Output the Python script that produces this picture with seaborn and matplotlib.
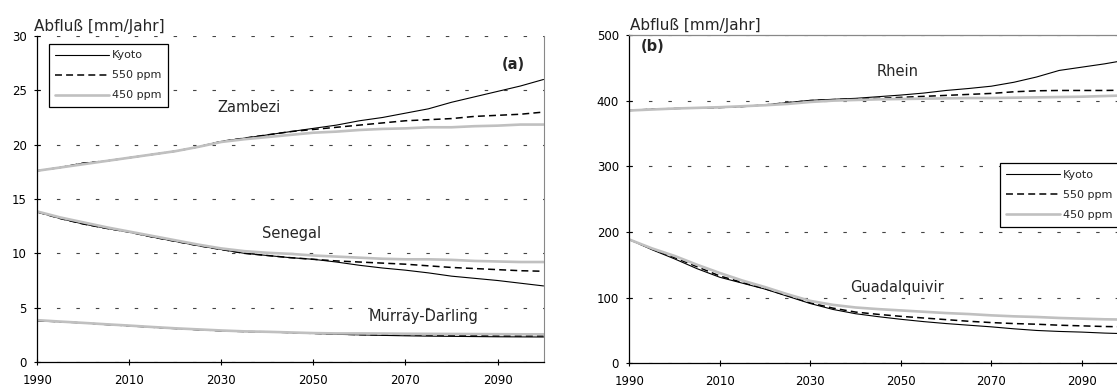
import matplotlib
matplotlib.use("Agg")
import matplotlib.pyplot as plt
from matplotlib.lines import Line2D
import pandas as pd
import seaborn as sns

# ---------------- data ----------------
years = [1990, 1995, 2000, 2005, 2010, 2015, 2020, 2025, 2030, 2035, 2040, 2045,
         2050, 2055, 2060, 2065, 2070, 2075, 2080, 2085, 2090, 2095, 2100]
scenarios = ["Kyoto", "550 ppm", "450 ppm"]

zambezi_kyoto = [17.6, 17.9, 18.3, 18.5, 18.8, 19.1, 19.4, 19.8, 20.3, 20.6, 20.9, 21.2,
                 21.5, 21.8, 22.2, 22.5, 22.9, 23.3, 23.9, 24.4, 24.9, 25.4, 26.0]
zambezi_550 = [17.6, 17.9, 18.3, 18.5, 18.8, 19.1, 19.4, 19.8, 20.3, 20.6, 20.9, 21.2,
               21.4, 21.6, 21.8, 22.0, 22.2, 22.3, 22.4, 22.6, 22.7, 22.8, 23.0]
zambezi_450 = [17.6, 17.9, 18.2, 18.5, 18.8, 19.1, 19.4, 19.8, 20.25, 20.5, 20.7, 20.9,
               21.1, 21.2, 21.35, 21.45, 21.5, 21.6, 21.6, 21.7, 21.75, 21.85, 21.85]

senegal_kyoto = [13.8, 13.2, 12.7, 12.3, 11.95, 11.5, 11.1, 10.7, 10.35, 10.0, 9.8, 9.6,
                 9.45, 9.2, 8.9, 8.65, 8.45, 8.2, 7.9, 7.7, 7.5, 7.25, 7.0]
senegal_550 = [13.8, 13.2, 12.7, 12.3, 11.95, 11.5, 11.1, 10.7, 10.35, 10.0, 9.8, 9.6,
               9.45, 9.3, 9.2, 9.1, 9.0, 8.85, 8.7, 8.6, 8.5, 8.4, 8.35]
senegal_450 = [13.85, 13.3, 12.85, 12.4, 12.0, 11.6, 11.2, 10.8, 10.45, 10.2, 10.05, 9.95,
               9.8, 9.7, 9.6, 9.5, 9.45, 9.45, 9.4, 9.3, 9.25, 9.2, 9.2]

murray_kyoto = [3.8, 3.7, 3.6, 3.45, 3.33, 3.2, 3.08, 2.97, 2.87, 2.8, 2.78, 2.7,
                2.63, 2.55, 2.5, 2.45, 2.41, 2.38, 2.36, 2.34, 2.32, 2.31, 2.3]
murray_550 = [3.8, 3.7, 3.6, 3.45, 3.33, 3.2, 3.08, 2.97, 2.87, 2.8, 2.78, 2.7,
              2.63, 2.57, 2.52, 2.5, 2.5, 2.47, 2.45, 2.42, 2.4, 2.4, 2.4]
murray_450 = [3.85, 3.72, 3.6, 3.47, 3.35, 3.22, 3.1, 3.0, 2.9, 2.82, 2.78, 2.72,
              2.66, 2.63, 2.63, 2.62, 2.6, 2.59, 2.58, 2.57, 2.56, 2.55, 2.55]

rhein_kyoto = [385, 387, 388, 389, 389.5, 391, 393.5, 397, 400.5, 402, 403.5, 406,
               408.5, 411.5, 415.5, 418.5, 422, 428, 436, 446, 451, 456, 462]
rhein_550 = [385, 387, 388, 389, 389.5, 391, 393.5, 397, 400, 401.5, 402.5, 403.5,
             405, 406.5, 408, 409.5, 411, 413.5, 415, 415.5, 415.5, 415.5, 416]
rhein_450 = [385, 386.5, 388, 389, 390, 391.5, 393, 395, 398, 400, 401, 402,
             402.5, 403, 403.5, 404, 404, 404.5, 405, 405.5, 406, 407, 408]

guadal_kyoto = [188.5, 173, 159, 144, 131, 122, 113, 102, 91, 82, 75.5, 71,
                67, 63.5, 60.5, 58, 55.5, 52.5, 50, 48.5, 47.5, 46, 45]
guadal_550 = [188.5, 174, 161, 147, 133, 123, 113.5, 103, 92, 84, 78, 74.5,
              71.5, 69, 66.5, 64, 62, 60.5, 59.5, 58, 57, 56, 55.5]
guadal_450 = [188.5, 175, 163.5, 150, 137.5, 126, 116, 105, 95, 89, 85, 82.5,
              80.5, 78.5, 76.5, 75, 73, 71.5, 70.5, 69, 68, 67, 66.5]

y_label = "Abfluß [mm/Jahr]"
x_ticks = [1990, 2010, 2030, 2050, 2070, 2090]
y_ticks_a = [0, 5, 10, 15, 20, 25, 30]
y_ticks_b = [0, 100, 200, 300, 400, 500]


def long_df(kyoto, s550, s450):
    frames = []
    for name, vals in zip(scenarios, [kyoto, s550, s450]):
        frames.append(pd.DataFrame({"Jahr": years, "Abfluss": vals, "Szenario": name}))
    return pd.concat(frames, ignore_index=True)


panel_a = [long_df(zambezi_kyoto, zambezi_550, zambezi_450),
           long_df(senegal_kyoto, senegal_550, senegal_450),
           long_df(murray_kyoto, murray_550, murray_450)]
panel_b = [long_df(rhein_kyoto, rhein_550, rhein_450),
           long_df(guadal_kyoto, guadal_550, guadal_450)]

# ---------------- style ----------------
sns.set_style("ticks")
plt.rcParams["font.family"] = ["DejaVu Sans"]
plt.rcParams["lines.scale_dashes"] = False

palette = {"Kyoto": "black", "550 ppm": "black", "450 ppm": "#c0c0c0"}
sizes = {"Kyoto": 0.8, "550 ppm": 1.1, "450 ppm": 1.9}
dashes = {"Kyoto": "", "550 ppm": (5, 3), "450 ppm": ""}

fig = plt.figure(figsize=(11.17, 3.9), dpi=100)
axA = fig.add_axes([0.0334, 0.0718, 0.4532, 0.8359])
axB = fig.add_axes([0.5634, 0.0685, 0.4456, 0.8418])


def draw(ax, dfs):
    for df in dfs:
        sns.lineplot(data=df, x="Jahr", y="Abfluss", hue="Szenario", size="Szenario",
                     style="Szenario", hue_order=scenarios, size_order=scenarios,
                     style_order=scenarios, palette=palette, sizes=sizes, dashes=dashes,
                     estimator=None, legend=False, ax=ax)
    ax.set_xlabel("")
    ax.set_ylabel("")
    ax.set_xlim(1990, 2100)
    ax.set_xticks(x_ticks)
    ax.set_axisbelow(True)
    ax.grid(axis="y", linestyle=(0, (2.5, 11.5)), color="#444444", linewidth=0.8)
    ax.grid(axis="x", visible=False)
    ax.tick_params(direction="inout", length=5, width=0.8, labelsize=8.5,
                   colors="black", left=True, bottom=True, right=False, top=False)
    ax.tick_params(axis="y", pad=5)
    ax.tick_params(axis="x", pad=6)
    for s in ["left", "bottom"]:
        ax.spines[s].set_color("black")
        ax.spines[s].set_linewidth(0.9)


def add_legend(ax, anchor):
    handles = [Line2D([], [], color=palette[s], linewidth=sizes[s],
                      linestyle=("-" if dashes[s] == "" else (0, dashes[s])))
               for s in scenarios]
    leg = ax.legend(handles, scenarios, loc="upper left", bbox_to_anchor=anchor,
                    borderaxespad=0, fontsize=8, handlelength=4.8, handletextpad=0.3,
                    borderpad=0.6, labelspacing=0.9, fancybox=False, framealpha=1,
                    edgecolor="black")
    leg.get_frame().set_linewidth(0.9)


draw(axA, panel_a)
axA.set_ylim(0, 30)
axA.set_yticks(y_ticks_a)
axA.spines["top"].set_visible(False)
axA.spines["right"].set_color("#888888")
axA.spines["right"].set_linewidth(0.8)
add_legend(axA, (0.0226, 0.976))
axA.annotate(y_label, xy=(0, 1), xycoords="axes fraction", xytext=(-2.6, 1.5),
             textcoords="offset points", ha="left", va="bottom", fontsize=11)
axA.text(2035.9, 23.4, "Zambezi", ha="center", va="center", fontsize=10.5)
axA.text(2045.3, 11.8, "Senegal", ha="center", va="center", fontsize=10.5)
axA.text(2074.0, 4.15, "Murray-Darling", ha="center", va="center", fontsize=10.5)
axA.text(2096.0, 27.4, "(a)", ha="right", va="center", fontsize=10.5, fontweight="bold")

draw(axB, panel_b)
axB.set_ylim(0, 500)
axB.set_yticks(y_ticks_b)
axB.spines["top"].set_color("#888888")
axB.spines["top"].set_linewidth(0.9)
axB.spines["right"].set_color("#888888")
add_legend(axB, (0.744, 0.609))
axB.annotate(y_label, xy=(0, 1), xycoords="axes fraction", xytext=(0.5, 1.5),
             textcoords="offset points", ha="left", va="bottom", fontsize=11)
axB.text(2049.4, 443.9, "Rhein", ha="center", va="center", fontsize=10.5)
axB.text(2049.1, 114.7, "Guadalquivir", ha="center", va="center", fontsize=10.5)
axB.text(1992.5, 482.8, "(b)", ha="left", va="center", fontsize=10.5, fontweight="bold")

fig.savefig("out.png", dpi=100)
